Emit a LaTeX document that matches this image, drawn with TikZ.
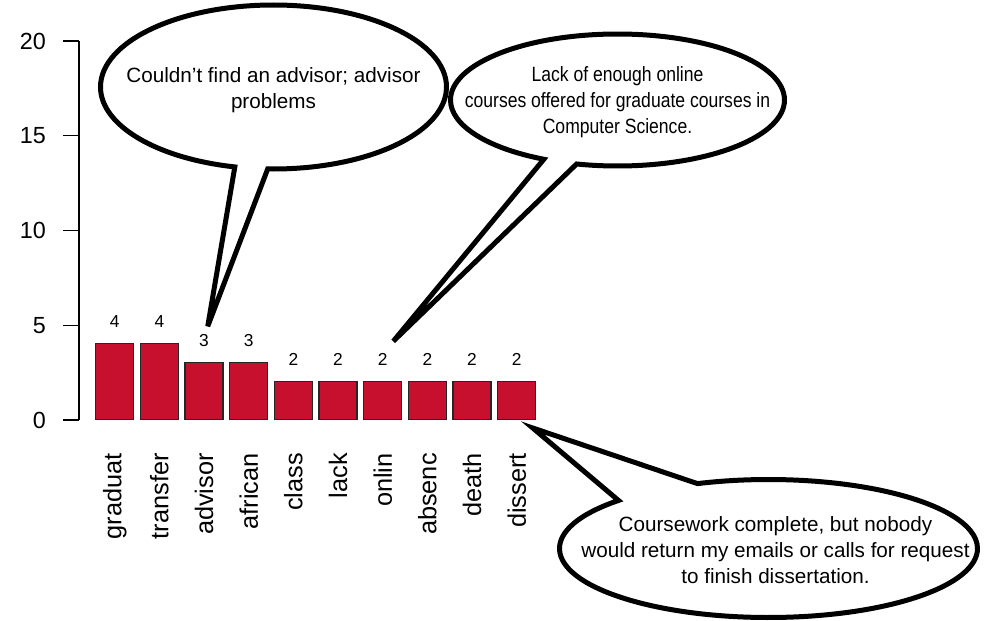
\documentclass[tikz,border=0pt]{standalone}
\usepackage{fontspec}
\setmainfont{Liberation Sans}
\newfontfamily\narrowsans[FakeStretch=0.85]{Liberation Sans}
\usetikzlibrary{shapes.callouts}
\usetikzlibrary{calc}
\definecolor{barred}{RGB}{199,16,46}
\tikzset{bar/.style={draw=black!85,fill=barred,line width=1.1pt,minimum width=28.5pt,inner sep=0pt,anchor=south},
 valnum/.style={font=\fontsize{13}{15}\selectfont,inner sep=0pt},
 catlabel/.style={font=\fontsize{19}{22}\selectfont,rotate=90,anchor=east,inner sep=0pt},
 ticklabel/.style={font=\fontsize{17.5}{21}\selectfont,anchor=east,inner sep=0pt},
 bubble/.style={ellipse callout,draw=black,fill=white,line width=3.75pt,inner sep=0pt},
 notetext/.style={align=center,font=\fontsize{15.5}{19.5}\selectfont,inner sep=0pt},
 }

\begin{document}
\begin{tikzpicture}[x=0.75pt,y=-0.75pt]
        \useasboundingbox (0,0) rectangle (993,621);
        % y axis
        \draw [line width=1.1pt] (79,41) -- (79,420);
        \foreach \t in {0,5,...,20} {
            \draw [line width=1.1pt] (63,420-18.95*\t) -- (79,420-18.95*\t);
            \node [ticklabel] (t\t) at (46,420-18.95*\t) {\t};
        }
        % bars
        \foreach \name/\val [count=\i] in {graduat/4,transfer/4,advisor/3,african/3,class/2,lack/2,onlin/2,absenc/2,death/2,dissert/2} {
            \pgfmathsetmacro\xc{114.7+(\i-1)*44.67}
            \node [bar,minimum height=\val*14.21pt] (b\i) at (\xc,420) {};
            \node [valnum] (v\i) at ($(b\i.north)+(0,-21.5)$) {\val};
            \node [catlabel] (c\i) at (\xc,453) {\name};
        }
        % callouts
        \node [bubble,minimum width=259.5pt,minimum height=123pt,callout pointer arc=11,
            callout absolute pointer={($(v3.north)+(3.7,-7.5)$)}] (advnote) at (273.5,87) {};
        \node [notetext] (advtext) at ($(advnote.center)+(0,3)$) {Couldn’t find an advisor; advisor\\problems};
        \node [bubble,minimum width=250.5pt,minimum height=99pt,callout pointer arc=12,
            callout absolute pointer={($(v7.north east)+(5.5,-11.6)$)}] (onlnote) at (617.5,100) {};
        \node [notetext,font=\narrowsans\fontsize{15.5}{19.5}\selectfont] (onltext) at ($(onlnote.center)+(0,2)$)
            {Lack of enough online\\courses offered for graduate courses in\\Computer Science.};
        \node [bubble,minimum width=313.5pt,minimum height=103.5pt,callout pointer arc=26,
            callout absolute pointer={($(b10.south east)+(-3.7,8)$)}] (disnote) at (768.5,548.5) {};
        \node [notetext] (distext) at ($(disnote.center)+(7,2)$)
            {Coursework complete, but nobody\\would return my emails or calls for request\\to finish dissertation.};
    \end{tikzpicture}
\end{document}
